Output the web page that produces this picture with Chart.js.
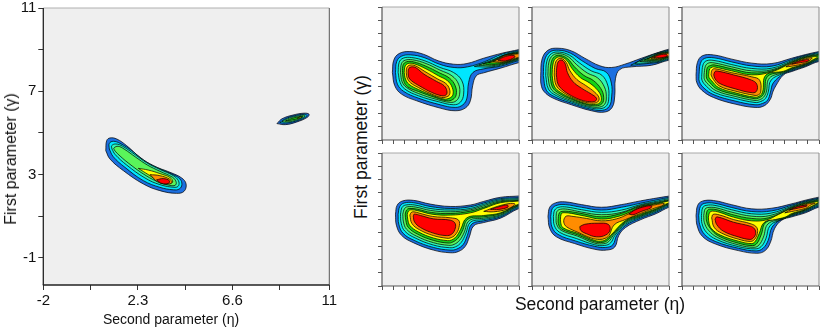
<!DOCTYPE html>
<html>
<head>
<meta charset="utf-8">
<script src="https://cdn.jsdelivr.net/npm/chart.js@4.4.1/dist/chart.umd.min.js"></script>
<style>
  body { margin: 0; background: #fff; width: 823px; height: 331px; overflow: hidden; position: relative;
         font-family: "Liberation Sans", Arial, sans-serif; }
  canvas { position: absolute; }
  .ttl { position: absolute; white-space: nowrap; color: #111; transform: translate(-50%, -50%); }
  .ttl.vert { transform: translate(-50%, -50%) rotate(-90deg); }
</style>
</head>
<body>
<canvas id="main" width="340" height="334" style="left:0;top:-3px"></canvas>
<canvas id="pA" width="149" height="143" style="left:374px;top:5px"></canvas>
<canvas id="pB" width="149" height="143" style="left:524px;top:5px"></canvas>
<canvas id="pC" width="149" height="143" style="left:674px;top:5px"></canvas>
<canvas id="pD" width="149" height="143" style="left:374px;top:151px"></canvas>
<canvas id="pE" width="149" height="143" style="left:524px;top:151px"></canvas>
<canvas id="pF" width="149" height="143" style="left:674px;top:151px"></canvas>

<div class="ttl vert" style="left:11px;top:159px;font-size:16px">First parameter (γ)</div>
<div class="ttl" style="left:171px;top:319px;font-size:14px">Second parameter (η)</div>
<div class="ttl vert" style="left:361px;top:147px;font-size:17.5px">First parameter (γ)</div>
<div class="ttl" style="left:600px;top:304px;font-size:17.5px">Second parameter (η)</div>

<script>
// contour levels, outermost to innermost
const levelColors = ['#1c6fe0', '#00e6ff', '#2ff5b4', '#5af55a', '#14d214', '#ffff00', '#ff8c00', '#ff0000'];

// axis ticks
const mainXTicks = [-2, 0.15, 2.3, 4.45, 6.6, 8.75, 11];
const mainXLabels = ['-2', '', '2.3', '', '6.6', '', '11'];
const mainYTicks = [-1, 1, 3, 5, 7, 9, 11];
const mainYLabels = ['-1', '', '3', '', '7', '', '11'];
const panelXTicks = [0, 1, 2, 3, 4, 5, 6, 7, 8, 9, 10, 11, 12];
const panelYTicks = [0, 1, 2, 3, 4, 5, 6, 7, 8, 9, 10];

// each ring: [level, x1, y1, x2, y2, ...]  (eta, gamma)
const mainRings = [
  [0, 0.84,4.15, 0.88,4.63, 1.03,4.76, 1.34,4.71, 1.79,4.39, 2.4,3.83, 3.0,3.43, 3.76,3.11, 4.29,2.84, 4.49,2.55, 4.4,2.2, 4.06,2.1, 3.3,2.23, 2.55,2.55, 1.64,3.19, 1.03,3.75],
  [1, 1.0,4.23, 1.0,4.5, 1.18,4.6, 1.49,4.5, 2.02,4.15, 2.55,3.7, 3.15,3.35, 3.84,3.03, 4.21,2.79, 4.3,2.52, 4.18,2.31, 3.91,2.27, 3.3,2.39, 2.55,2.71, 1.71,3.35, 1.18,3.86],
  [2, 1.12,4.23, 1.11,4.39, 1.3,4.47, 1.61,4.36, 2.17,3.96, 2.7,3.57, 3.3,3.25, 3.91,2.95, 4.14,2.71, 4.15,2.47, 3.99,2.39, 3.3,2.52, 2.62,2.84, 1.79,3.46, 1.27,3.96],
  [3, 1.23,4.18, 1.21,4.28, 1.4,4.36, 1.67,4.23, 2.21,3.83, 2.73,3.46, 3.3,3.16, 3.88,2.87, 4.03,2.67, 4.02,2.51, 3.84,2.47, 3.3,2.62, 2.67,2.95, 1.86,3.56, 1.36,4.02],
  [5, 2.32,3.3, 2.77,3.22, 3.3,3.05, 3.76,2.86, 3.88,2.66, 3.74,2.57, 3.23,2.72, 2.65,3.08],
  [6, 2.85,3.0, 3.3,2.95, 3.73,2.79, 3.85,2.63, 3.69,2.55, 3.23,2.63],
  [7, 3.15,2.75, 3.45,2.81, 3.73,2.71, 3.69,2.58, 3.38,2.58],
  [0, 8.62,5.45, 8.85,5.68, 9.35,5.86, 9.85,5.95, 10.08,5.9, 10.0,5.75, 9.5,5.52, 9.0,5.4],
  [1, 8.75,5.5, 9.0,5.68, 9.4,5.82, 9.85,5.9, 9.98,5.85, 9.9,5.74, 9.45,5.56, 9.0,5.47],
  [3, 8.85,5.55, 9.1,5.68, 9.45,5.79, 9.85,5.86, 9.9,5.8, 9.45,5.6, 9.0,5.52],
  [4, 9.0,5.57, 9.2,5.66, 9.6,5.78, 9.8,5.8, 9.6,5.7, 9.2,5.6],
  [5, 9.55,5.72, 9.7,5.77, 9.75,5.74, 9.6,5.7]
];

const panelA = [
  [0, 0.91,5.08, 1.03,6.0, 1.5,6.5, 2.44,6.65, 3.62,6.45, 4.94,5.95, 6.26,5.7, 7.44,5.75, 8.91,6.15, 10.53,6.53, 12.0,6.8, 13.0,7.0, 13.0,6.0, 12.0,5.82, 10.38,5.4, 8.91,5.05, 8.26,4.83, 7.94,4.08, 7.74,2.95, 7.29,2.4, 6.41,2.2, 5.09,2.4, 3.03,2.95, 1.71,3.45, 1.12,4.08],
  [1, 1.18,5.08, 1.29,5.9, 1.71,6.3, 2.5,6.4, 3.68,6.2, 5.03,5.7, 6.32,5.45, 7.5,5.5, 8.97,5.88, 10.53,6.46, 12.0,6.72, 13.0,6.9, 13.0,6.1, 12.0,5.98, 10.38,5.55, 8.91,5.35, 7.97,5.08, 7.59,4.33, 7.44,3.15, 7.09,2.65, 6.41,2.45, 5.09,2.65, 3.18,3.15, 1.91,3.65, 1.35,4.2],
  [2, 1.41,5.08, 1.5,5.83, 1.85,6.15, 2.59,6.2, 3.76,5.95, 5.09,5.45, 6.26,5.08, 7.0,4.45, 7.15,3.45, 6.85,2.83, 6.26,2.65, 4.94,2.88, 3.18,3.33, 2.0,3.83, 1.59,4.33],
  [3, 1.62,5.08, 1.71,5.75, 2.03,6.0, 2.68,6.03, 3.85,5.75, 5.09,5.25, 6.12,4.83, 6.71,4.2, 6.79,3.4, 6.5,2.95, 5.97,2.83, 4.79,3.05, 3.18,3.5, 2.15,3.95, 1.76,4.38],
  [4, 1.79,5.08, 1.85,5.65, 2.15,5.88, 2.74,5.88, 3.85,5.55, 5.03,5.05, 5.91,4.65, 6.41,4.08, 6.5,3.4, 6.21,3.05, 5.68,2.95, 4.65,3.2, 3.18,3.65, 2.24,4.0, 1.91,4.43],
  [5, 1.94,5.08, 2.03,5.55, 2.29,5.75, 2.82,5.73, 3.85,5.35, 4.94,4.83, 5.74,4.45, 6.15,3.95, 6.21,3.4, 5.91,3.15, 5.44,3.08, 4.5,3.33, 3.18,3.8, 2.35,4.2, 2.06,4.58],
  [6, 2.12,5.08, 2.18,5.45, 2.44,5.63, 2.91,5.58, 3.76,5.15, 4.85,4.6, 5.59,4.25, 5.91,3.83, 5.91,3.4, 5.62,3.23, 5.21,3.2, 4.35,3.45, 3.18,3.95, 2.5,4.3, 2.21,4.65],
  [7, 2.29,5.08, 2.35,5.38, 2.59,5.5, 2.97,5.43, 3.68,4.95, 4.79,4.4, 5.44,4.08, 5.68,3.7, 5.62,3.4, 5.24,3.33, 4.35,3.58, 3.26,4.08, 2.62,4.43, 2.35,4.7],
  [2, 8.09,5.52, 9.6,6.0, 10.8,6.43, 12,6.66, 13,6.84, 13,6.16, 12,6.04, 10.8,5.72, 9.6,5.5],
  [3, 8.47,5.62, 9.6,5.95, 10.8,6.41, 12,6.61, 13,6.79, 13,6.21, 12,6.09, 10.8,5.77, 9.6,5.58],
  [4, 8.85,5.72, 9.6,5.9, 10.8,6.39, 12,6.57, 13,6.74, 13,6.26, 12,6.14, 10.8,5.81, 9.6,5.66],
  [5, 9.35,5.8, 10.1,6.05, 10.8,6.37, 12,6.53, 13,6.7, 13,6.3, 12,6.18, 10.8,5.86, 10.1,5.8],
  [6, 9.74,5.9, 10.3,6.13, 10.8,6.35, 12,6.49, 13,6.64, 13,6.36, 12,6.22, 10.8,5.9, 10.3,5.86],
  [7, 10.15,6.0, 10.8,6.28, 11.56,6.36, 11.62,6.22, 10.8,5.95]
];

const panelB = [
  [0, 0.76,4.83, 0.88,6.08, 1.4,6.75, 2.28,6.9, 3.45,6.7, 4.62,6.15, 5.94,5.58, 6.96,5.45, 8.13,5.7, 9.59,6.15, 11.05,6.58, 12,6.83, 12.8,6.95, 12.8,6.0, 12,6.0, 10.47,5.62, 8.71,5.5, 7.69,5.3, 7.31,4.6, 7.25,3.33, 7.02,2.45, 6.37,2.1, 5.2,2.2, 3.45,2.65, 1.84,3.15, 1.05,3.65, 0.79,4.2],
  [1, 0.99,4.84, 1.1,5.99, 1.56,6.61, 2.34,6.75, 3.36,6.53, 4.36,5.97, 5.54,5.38, 6.51,5.09, 6.95,4.28, 6.98,3.3, 6.77,2.53, 6.15,2.23, 5.05,2.34, 3.45,2.77, 1.99,3.25, 1.26,3.74],
  [1, 8.65,5.62, 10.0,6.22, 11.2,6.6, 12,6.75, 12.8,6.87, 12.8,6.1, 12,6.08, 11.2,5.86, 10.0,5.74],
  [2, 1.2,4.85, 1.3,5.92, 1.7,6.49, 2.39,6.61, 3.28,6.38, 4.13,5.81, 5.19,5.2, 6.12,4.87, 6.63,4.13, 6.73,3.27, 6.55,2.6, 5.95,2.35, 4.92,2.46, 3.45,2.87, 2.12,3.34, 1.44,3.83],
  [2, 9.0,5.76, 10.0,6.17, 11.2,6.56, 12,6.69, 12.8,6.8, 12.8,6.16, 12,6.14, 11.2,5.92, 10.0,5.8],
  [3, 1.39,4.86, 1.48,5.85, 1.83,6.37, 2.44,6.49, 3.21,6.24, 3.92,5.66, 4.86,5.03, 5.75,4.67, 6.34,3.99, 6.51,3.25, 6.35,2.67, 5.77,2.46, 4.8,2.57, 3.45,2.96, 2.24,3.43, 1.62,3.9],
  [3, 9.44,5.9, 10.2,6.15, 11.2,6.53, 12,6.64, 12.8,6.74, 12.8,6.22, 12,6.19, 11.2,5.97, 10.2,5.9],
  [4, 1.58,4.87, 1.67,5.78, 1.96,6.26, 2.49,6.36, 3.13,6.1, 3.71,5.51, 4.54,4.86, 5.38,4.47, 6.04,3.85, 6.28,3.22, 6.14,2.74, 5.58,2.57, 4.68,2.68, 3.45,3.06, 2.37,3.51, 1.79,3.98],
  [4, 9.82,6.0, 10.5,6.25, 11.2,6.5, 12,6.6, 12.8,6.69, 12.8,6.27, 12,6.23, 11.2,6.03, 10.5,5.98],
  [5, 1.76,4.88, 1.84,5.71, 2.09,6.15, 2.54,6.24, 3.06,5.97, 3.51,5.37, 4.23,4.7, 5.04,4.29, 5.77,3.72, 6.07,3.2, 5.95,2.8, 5.41,2.67, 4.56,2.78, 3.45,3.15, 2.48,3.59, 1.95,4.05],
  [5, 10.12,6.08, 10.7,6.3, 11.2,6.47, 12,6.56, 12.8,6.64, 12.8,6.31, 12,6.27, 11.2,6.08, 10.7,6.05],
  [6, 1.94,4.89, 2.01,5.65, 2.21,6.04, 2.58,6.13, 2.99,5.84, 3.31,5.23, 3.93,4.55, 4.7,4.1, 5.5,3.59, 5.87,3.18, 5.76,2.86, 5.24,2.77, 4.45,2.89, 3.45,3.23, 2.6,3.67, 2.11,4.12],
  [6, 10.41,6.14, 11.2,6.44, 12,6.52, 12.8,6.59, 12.8,6.35, 12,6.3, 11.2,6.13],
  [7, 2.13,4.9, 2.19,5.58, 2.34,5.93, 2.63,6.0, 2.92,5.7, 3.1,5.08, 3.6,4.38, 4.33,3.9, 5.2,3.45, 5.64,3.15, 5.56,2.93, 5.06,2.88, 4.33,3.0, 3.45,3.33, 2.72,3.75, 2.28,4.2],
  [7, 10.65,6.2, 11.2,6.4, 11.8,6.43, 11.82,6.3, 11.2,6.18]
];

const panelC = [
  [0, 1.23,4.9, 1.35,5.83, 1.78,6.33, 2.75,6.4, 4.36,6.08, 6.11,5.78, 7.87,5.75, 9.62,6.15, 10.8,6.42, 11.99,6.65, 12.84,6.78, 12.84,5.88, 11.99,5.9, 10.8,5.5, 9.62,5.15, 8.9,4.9, 8.22,4.08, 7.95,3.6, 7.75,3.08, 7.22,2.58, 6.4,2.45, 4.65,2.7, 2.75,3.2, 1.73,3.75, 1.29,4.33],
  [1, 1.49,4.9, 1.61,5.75, 1.96,6.13, 2.8,6.18, 4.36,5.87, 6.11,5.57, 7.87,5.55, 9.62,6.05, 10.8,6.36, 11.99,6.57, 12.84,6.7, 12.84,5.98, 11.99,5.98, 10.8,5.56, 9.62,5.22, 8.9,4.97, 8.0,4.3, 7.75,3.6, 7.5,3.0, 7.05,2.75, 6.4,2.65, 4.65,2.93, 2.8,3.4, 1.93,3.9, 1.52,4.4],
  [2, 1.73,4.9, 1.84,5.65, 2.13,5.95, 2.8,5.98, 4.36,5.67, 6.11,5.38, 7.87,5.4, 9.62,5.97, 10.8,6.31, 11.99,6.5, 12.84,6.63, 12.84,6.07, 11.99,6.05, 10.8,5.61, 9.62,5.28, 8.9,5.02, 7.8,4.5, 7.55,3.6, 7.3,3.12, 6.9,2.9, 6.4,2.82, 4.65,3.13, 2.9,3.55, 2.13,4.05, 1.76,4.48],
  [3, 1.93,4.9, 2.05,5.55, 2.31,5.78, 2.8,5.8, 4.36,5.5, 6.11,5.2, 7.87,5.28, 9.62,5.9, 10.8,6.26, 11.99,6.44, 12.84,6.57, 12.84,6.15, 11.99,6.11, 10.8,5.65, 9.62,5.33, 8.9,5.07, 7.65,4.65, 7.38,3.6, 7.15,3.22, 6.8,3.03, 6.4,2.97, 4.65,3.28, 3.0,3.7, 2.3,4.18, 1.97,4.55],
  [4, 2.13,4.9, 2.22,5.45, 2.49,5.6, 2.8,5.65, 4.36,5.35, 6.11,5.05, 7.87,5.2, 9.62,5.85, 10.8,6.22, 11.99,6.39, 12.84,6.52, 12.84,6.22, 11.99,6.17, 10.8,5.69, 9.62,5.38, 8.9,5.12, 7.5,4.78, 7.22,3.6, 7.0,3.3, 6.7,3.15, 6.4,3.1, 4.65,3.42, 3.1,3.82, 2.45,4.3, 2.16,4.62],
  [5, 2.34,4.9, 2.43,5.35, 2.66,5.48, 2.8,5.5, 4.36,5.2, 6.11,4.9, 7.87,5.13, 9.62,5.8, 10.8,6.17, 11.6,6.27, 11.9,6.25, 11.5,6.05, 10.8,5.73, 9.62,5.43, 8.9,5.17, 7.35,4.88, 7.06,3.6, 6.85,3.35, 6.4,3.22, 4.65,3.55, 3.2,3.95, 2.6,4.45, 2.37,4.7],
  [6, 2.54,4.9, 2.63,5.25, 2.87,5.36, 4.36,5.06, 6.11,4.75, 6.8,4.5, 6.9,3.6, 6.7,3.4, 6.4,3.35, 4.65,3.68, 3.3,4.05, 2.75,4.55],
  [7, 2.78,4.9, 2.89,5.15, 3.13,5.18, 4.5,4.9, 6.1,4.5, 6.55,4.2, 6.55,3.7, 6.2,3.55, 4.65,3.85, 3.3,4.25, 2.9,4.6],
  [6, 9.1,5.5, 9.62,5.75, 10.2,5.95, 10.8,6.1, 11.4,6.18, 11.2,6.0, 10.8,5.78, 9.62,5.55],
  [7, 9.6,5.7, 10.2,5.9, 10.8,6.03, 11.1,6.05, 11.0,5.92, 10.4,5.82]
];

const panelD = [
  [0, 1.18,5.4, 1.32,6.06, 1.79,6.39, 2.74,6.44, 4.21,6.16, 5.97,5.98, 7.74,6.09, 8.91,6.36, 10.38,6.67, 12.0,6.77, 13.03,6.89, 13.03,5.96, 12.0,5.83, 10.38,5.1, 8.91,4.77, 8.03,4.52, 7.65,3.69, 7.29,2.98, 6.71,2.6, 5.97,2.5, 4.5,2.7, 2.74,3.26, 1.71,3.81, 1.26,4.57],
  [1, 1.41,5.4, 1.56,5.98, 1.94,6.24, 2.79,6.26, 4.21,5.98, 5.97,5.83, 7.74,5.96, 8.91,6.24, 10.38,6.57, 12.0,6.64, 13.03,6.77, 13.03,6.06, 12.0,5.93, 10.38,5.2, 8.91,4.9, 7.88,4.67, 7.47,3.79, 7.12,3.13, 6.56,2.78, 5.97,2.7, 4.5,2.9, 2.82,3.43, 1.85,3.96, 1.47,4.65],
  [2, 1.62,5.4, 1.76,5.91, 2.09,6.09, 2.88,6.09, 4.21,5.83, 5.97,5.71, 7.74,5.83, 8.91,6.14, 10.38,6.49, 12.0,6.57, 13.03,6.69, 13.03,6.14, 12.0,6.01, 10.38,5.28, 8.91,5.0, 7.76,4.8, 7.32,3.89, 6.94,3.28, 6.44,2.95, 5.91,2.88, 4.5,3.08, 2.91,3.61, 2.0,4.12, 1.68,4.72],
  [3, 1.82,5.4, 1.97,5.81, 2.24,5.96, 2.97,5.93, 4.26,5.68, 5.97,5.58, 7.74,5.73, 8.91,6.04, 10.38,6.41, 12.0,6.49, 13.03,6.62, 13.03,6.19, 12.0,6.06, 10.38,5.35, 8.91,5.1, 7.65,4.92, 7.18,3.99, 6.79,3.43, 6.32,3.13, 5.85,3.06, 4.5,3.26, 3.0,3.76, 2.15,4.27, 1.88,4.82],
  [4, 2.03,5.4, 2.15,5.71, 2.38,5.83, 3.06,5.78, 4.32,5.53, 5.97,5.45, 7.74,5.63, 8.91,5.93, 10.38,6.34, 12.0,6.44, 13.03,6.57, 13.03,6.24, 12.0,6.11, 10.38,5.43, 8.91,5.2, 7.53,5.03, 7.03,4.12, 6.65,3.59, 6.21,3.31, 5.79,3.23, 4.5,3.43, 3.09,3.91, 2.29,4.42, 2.09,4.92],
  [5, 2.21,5.4, 2.32,5.63, 2.53,5.73, 3.15,5.66, 4.38,5.4, 5.97,5.33, 7.74,5.5, 8.91,5.83, 10.38,6.26, 12.0,6.39, 13.03,6.52, 13.03,6.29, 12.0,6.16, 10.38,5.5, 8.91,5.3, 7.44,5.13, 6.88,4.24, 6.5,3.71, 6.09,3.46, 5.74,3.41, 4.5,3.61, 3.18,4.07, 2.44,4.55, 2.26,5.0],
  [6, 2.44,5.33, 2.56,5.53, 2.79,5.58, 3.26,5.48, 4.44,5.23, 5.97,5.13, 6.71,4.95, 6.74,4.39, 6.41,3.84, 5.97,3.61, 5.68,3.59, 4.5,3.79, 3.26,4.24, 2.62,4.7],
  [7, 2.74,5.25, 2.82,5.4, 3.38,5.3, 4.5,5.05, 5.97,4.95, 6.41,4.7, 6.38,4.24, 6.09,3.89, 5.62,3.79, 4.56,3.96, 3.38,4.39, 2.85,4.82],
  [6, 8.91,5.61, 10.09,5.98, 11.26,6.21, 11.65,6.14, 10.97,5.78, 9.79,5.58],
  [7, 9.5,5.76, 10.24,5.96, 10.97,6.09, 11.03,5.93, 10.24,5.76]
];

const panelE = [
  [0, 1.4,5.23, 1.55,5.92, 2.05,6.25, 2.87,6.33, 4.33,6.12, 6.08,5.92, 7.84,6.12, 9.5,6.4, 11.05,6.63, 12,6.76, 12.81,6.86, 12.81,6.02, 12,5.92, 10.9,5.45, 9.5,4.98, 8.2,4.4, 7.6,3.8, 7.25,2.93, 6.52,2.7, 5.5,2.76, 3.74,3.19, 2.13,3.7, 1.55,4.34],
  [1, 1.64,5.23, 1.78,5.82, 2.19,6.07, 2.92,6.12, 4.33,5.92, 6.08,5.71, 7.84,5.92, 9.5,6.22, 11.05,6.5, 12,6.66, 12.81,6.76, 12.81,6.12, 12,6.02, 10.9,5.56, 9.5,5.1, 8.2,4.55, 7.42,3.8, 7.08,3.1, 6.46,2.9, 5.5,2.98, 3.8,3.39, 2.28,3.88, 1.75,4.44],
  [2, 1.87,5.23, 1.99,5.71, 2.34,5.92, 3.01,5.94, 4.33,5.74, 6.08,5.54, 7.84,5.71, 9.5,6.12, 11.05,6.4, 12,6.58, 12.81,6.68, 12.81,6.2, 12,6.1, 10.9,5.64, 9.5,5.18, 8.2,4.65, 7.26,3.8, 6.9,3.25, 6.37,3.05, 5.5,3.1, 3.89,3.57, 2.43,4.03, 1.96,4.54],
  [3, 2.11,5.23, 2.19,5.61, 2.49,5.77, 3.1,5.77, 4.33,5.56, 6.08,5.36, 7.84,5.54, 9.5,6.06, 11.05,6.32, 12,6.5, 12.81,6.61, 12.81,6.25, 12,6.15, 10.9,5.7, 9.5,5.24, 8.2,4.75, 7.12,3.8, 6.73,3.35, 6.29,3.18, 5.5,3.22, 3.98,3.75, 2.57,4.18, 2.16,4.64],
  [4, 2.31,5.23, 2.4,5.51, 2.63,5.61, 3.19,5.61, 4.47,5.43, 6.08,5.2, 7.7,5.43, 9.5,6.0, 11.05,6.26, 12,6.45, 12.81,6.56, 12.81,6.3, 12,6.2, 10.9,5.76, 9.5,5.3, 8.2,4.83, 7.0,3.8, 6.6,3.42, 6.2,3.28, 5.5,3.32, 3.98,3.85, 2.6,4.28, 2.31,4.69],
  [5, 2.51,5.23, 2.6,5.46, 2.87,5.51, 3.45,5.46, 4.62,5.26, 6.08,5.03, 7.54,5.23, 8.71,5.61, 9.5,5.95, 11.05,6.2, 12,6.4, 12.81,6.51, 12.81,6.35, 12,6.25, 10.9,5.82, 9.5,5.38, 8.2,4.92, 6.88,3.8, 6.5,3.5, 6.15,3.38, 5.5,3.42, 4.04,3.95, 2.72,4.38, 2.51,4.8],
  [6, 2.81,5.05, 3.01,5.26, 3.6,5.23, 4.77,5.08, 6.08,4.9, 7.4,5.05, 8.42,5.41, 9.5,5.9, 10.76,6.1, 11.58,6.2, 11.35,6.02, 10.9,5.9, 9.5,5.45, 8.2,5.0, 7.2,4.6, 6.75,3.8, 6.4,3.58, 5.94,3.5, 5.2,3.6, 4.04,4.03, 3.01,4.46, 2.78,4.8],
  [7, 4.18,4.46, 4.62,4.64, 5.79,4.72, 6.67,4.64, 6.84,4.21, 6.45,3.83, 5.64,3.7, 4.77,3.93, 4.27,4.18],
  [7, 8.48,5.41, 9.01,5.71, 9.88,5.97, 10.47,6.02, 10.41,5.87, 9.59,5.61, 8.86,5.36]
];

const panelF = [
  [0, 1.23,5.3, 1.37,6.06, 1.78,6.38, 2.75,6.43, 4.36,6.11, 6.11,5.8, 7.87,5.85, 9.62,6.18, 10.8,6.45, 11.99,6.68, 12.84,6.81, 12.84,5.98, 11.99,5.93, 10.8,5.5, 9.62,5.2, 8.74,4.95, 8.1,4.3, 7.75,3.29, 7.28,2.66, 6.55,2.46, 4.94,2.66, 2.89,3.17, 1.78,3.74, 1.32,4.55],
  [1, 1.46,5.3, 1.61,5.98, 1.96,6.21, 2.81,6.23, 4.36,5.9, 6.11,5.6, 7.87,5.65, 9.62,6.08, 10.8,6.38, 11.99,6.6, 12.84,6.73, 12.84,6.06, 11.99,6.02, 10.8,5.58, 9.62,5.27, 8.63,4.98, 7.89,4.42, 7.54,3.42, 7.1,2.84, 6.49,2.64, 4.94,2.84, 2.95,3.34, 1.96,3.89, 1.55,4.62],
  [2, 1.7,5.3, 1.81,5.88, 2.11,6.06, 2.89,6.06, 4.36,5.73, 6.11,5.43, 7.81,5.48, 9.62,6.0, 10.8,6.33, 11.99,6.54, 12.84,6.66, 12.84,6.14, 11.99,6.1, 10.8,5.64, 9.62,5.32, 8.8,5.03, 7.72,4.55, 7.34,3.54, 6.93,2.96, 6.4,2.79, 4.94,2.96, 3.04,3.49, 2.13,4.05, 1.75,4.7],
  [3, 1.9,5.3, 2.02,5.78, 2.25,5.9, 2.98,5.88, 4.36,5.55, 6.11,5.25, 7.72,5.3, 9.62,5.94, 10.8,6.28, 11.99,6.48, 12.84,6.6, 12.84,6.22, 11.99,6.18, 10.8,5.69, 9.62,5.36, 8.9,5.07, 7.54,4.67, 7.13,3.67, 6.75,3.09, 6.32,2.91, 4.94,3.09, 3.13,3.64, 2.31,4.2, 1.96,4.77],
  [4, 2.11,5.3, 2.22,5.68, 2.43,5.78, 3.07,5.73, 4.36,5.38, 6.11,5.08, 7.57,5.13, 9.62,5.89, 10.8,6.23, 11.99,6.43, 12.84,6.55, 12.84,6.3, 11.99,6.26, 10.8,5.73, 9.62,5.4, 9.0,5.12, 7.37,4.8, 6.93,3.84, 6.58,3.22, 6.2,3.04, 4.94,3.22, 3.19,3.77, 2.46,4.35, 2.16,4.85],
  [5, 2.31,5.18, 2.43,5.53, 2.66,5.63, 3.25,5.55, 4.5,5.18, 6.11,4.9, 7.43,4.98, 8.45,5.38, 9.62,5.85, 10.8,6.18, 11.96,6.32, 10.8,5.77, 9.62,5.45, 9.04,5.18, 8.2,5.0, 7.2,4.78, 6.75,3.92, 6.42,3.36, 6.1,3.19, 4.94,3.37, 3.33,3.84, 2.6,4.3, 2.37,4.72],
  [6, 2.6,5.13, 2.72,5.38, 3.25,5.35, 4.5,5.0, 6.05,4.67, 6.55,4.4, 6.6,3.95, 6.35,3.5, 6.0,3.35, 4.94,3.52, 3.48,3.97, 2.81,4.42],
  [7, 2.89,5.03, 3.07,5.2, 4.5,4.8, 5.97,4.5, 6.35,4.3, 6.45,3.95, 6.25,3.62, 5.95,3.5, 4.94,3.69, 3.63,4.12, 3.04,4.62],
  [6, 9.0,5.5, 9.62,5.78, 10.8,6.12, 11.5,6.24, 11.67,6.22, 11.3,6.1, 10.8,5.83, 9.62,5.6],
  [7, 9.4,5.72, 10.2,5.98, 10.9,6.08, 10.95,6.02, 10.2,5.86]
];

Chart.defaults.font.family = '"Liberation Sans", Arial, sans-serif';

function ringsToDatasets(rings) {
  return rings.map((ring, i) => {
    const pts = [];
    for (let k = 1; k < ring.length; k += 2) {
      pts.push({ x: ring[k], y: ring[k + 1] });
    }
    pts.push(pts[0]);
    return {
      data: pts,
      showLine: true,
      fill: 'shape',
      backgroundColor: levelColors[ring[0]],
      borderColor: 'rgba(0,0,0,0.9)',
      borderWidth: 0.8,
      tension: 0.4,
      pointRadius: 0,
      pointHoverRadius: 0,
      clip: 0,
      order: rings.length - i // outer rings first, inner on top
    };
  });
}

// grey plot background + frame
const framePlugin = {
  id: 'frame',
  beforeDraw(chart) {
    const { ctx, chartArea: a } = chart;
    ctx.save();
    ctx.fillStyle = '#efefef';
    ctx.fillRect(a.left, a.top, a.right - a.left, a.bottom - a.top);
    ctx.restore();
  },
  afterDraw(chart, args, opts) {
    const { ctx, chartArea: a } = chart;
    const seg = (x1, y1, x2, y2, color, w) => {
      ctx.strokeStyle = color;
      ctx.lineWidth = w;
      ctx.beginPath();
      ctx.moveTo(x1, y1);
      ctx.lineTo(x2, y2);
      ctx.stroke();
    };
    ctx.save();
    seg(a.left, a.top, a.right, a.top, opts.top, 1);
    seg(a.right, a.top, a.right, a.bottom, opts.right, 1);
    seg(a.left, a.top, a.left, a.bottom, opts.axis, opts.width);
    seg(a.left - 0.5, a.bottom, a.right, a.bottom, opts.axis, opts.width);
    ctx.restore();
  }
};

new Chart(document.getElementById('main'), {
  type: 'scatter',
  data: { datasets: ringsToDatasets(mainRings) },
  options: {
    responsive: false,
    animation: false,
    events: [],
    layout: { padding: { top: 10, right: 10.7, left: 0, bottom: 0 } },
    plugins: {
      legend: { display: false },
      tooltip: { enabled: false },
      frame: { top: '#b0b0b0', right: '#555', axis: '#222', width: 1.3 }
    },
    scales: {
      x: {
        type: 'linear', min: -2, max: 11,
        afterBuildTicks: s => { s.ticks = mainXTicks.map(v => ({ value: v })); },
        afterFit: s => { s.height = 46; },
        ticks: { autoSkip: false, maxRotation: 0, padding: 2, color: '#111', font: { size: 15 },
                 callback: (v, i) => mainXLabels[i] },
        grid: { drawOnChartArea: false, tickLength: 5, color: '#333' },
        border: { display: false }
      },
      y: {
        type: 'linear', min: -2.3, max: 11,
        afterBuildTicks: s => { s.ticks = mainYTicks.map(v => ({ value: v })); },
        afterFit: s => { s.width = 43.3; },
        ticks: { autoSkip: false, padding: 2, color: '#111', font: { size: 15 },
                 callback: (v, i) => mainYLabels[i] },
        grid: { drawOnChartArea: false, tickLength: 5, color: '#333' },
        border: { display: false }
      }
    }
  },
  plugins: [framePlugin]
});

function makePanel(id, rings) {
  new Chart(document.getElementById(id), {
    type: 'scatter',
    data: { datasets: ringsToDatasets(rings) },
    options: {
      responsive: false,
      animation: false,
      events: [],
      layout: { padding: { top: 2, right: 4, left: 0, bottom: 0 } },
      plugins: {
        legend: { display: false },
        tooltip: { enabled: false },
        frame: { top: '#a8a8a8', right: '#8a8a8a', axis: '#555', width: 1.2 }
      },
      scales: {
        x: {
          type: 'linear', min: 0, max: 12,
          afterBuildTicks: s => { s.ticks = panelXTicks.map(v => ({ value: v })); },
          afterFit: s => { s.height = 8; },
          ticks: { display: false },
          grid: { drawOnChartArea: false, tickLength: 4, color: '#555' },
          border: { display: false }
        },
        y: {
          type: 'linear', min: 0, max: 10,
          afterBuildTicks: s => { s.ticks = panelYTicks.map(v => ({ value: v })); },
          afterFit: s => { s.width = 8; },
          ticks: { display: false },
          grid: { drawOnChartArea: false, tickLength: 4, color: '#555' },
          border: { display: false }
        }
      }
    },
    plugins: [framePlugin]
  });
}

makePanel('pA', panelA);
makePanel('pB', panelB);
makePanel('pC', panelC);
makePanel('pD', panelD);
makePanel('pE', panelE);
makePanel('pF', panelF);
</script>
</body>
</html>
